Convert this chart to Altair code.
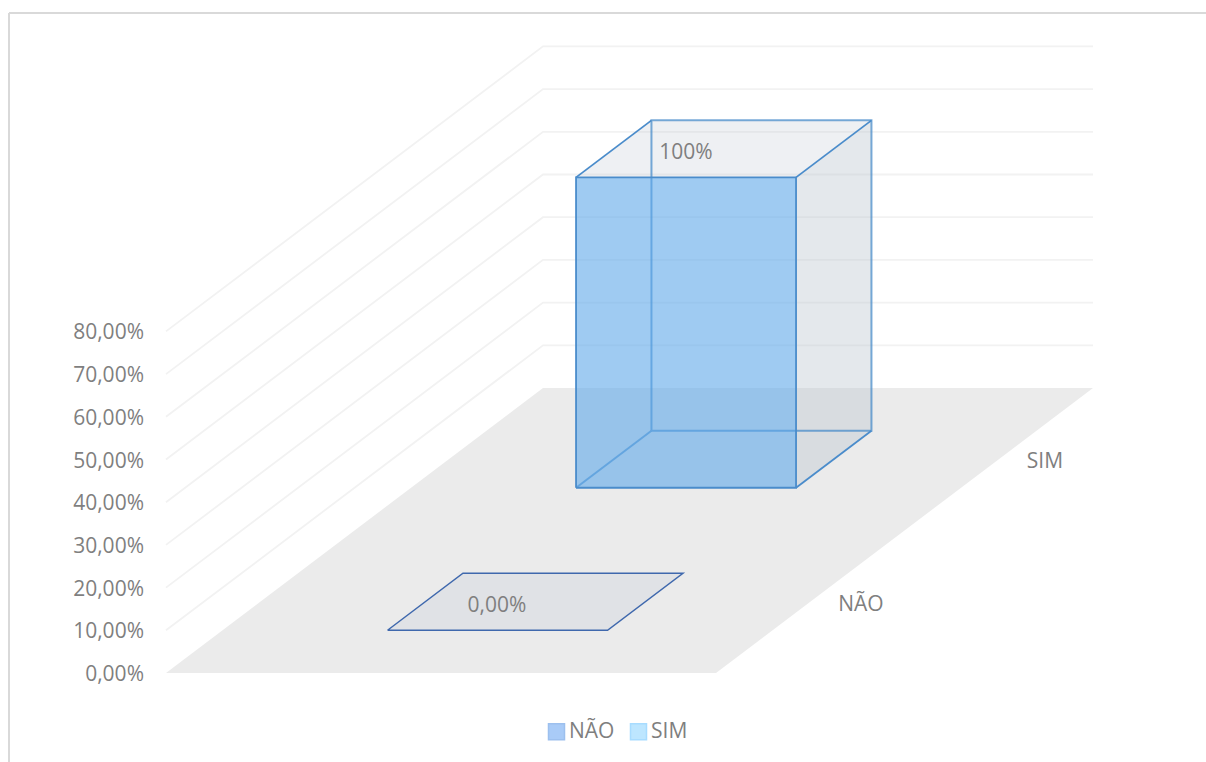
import altair as alt
import pandas as pd

# Series and their values (percent), as labelled on the bars
series = ["NÃO", "SIM"]
series_values = [0.0, 100.0]
value_labels = ["0,00%", "100%"]
tick_values = [0, 10, 20, 30, 40, 50, 60, 70, 80]
tick_labels = ["0,00%", "10,00%", "20,00%", "30,00%", "40,00%", "50,00%", "60,00%", "70,00%", "80,00%"]

# Oblique projection of the 3D box: u runs across, d runs into the page, h is height in pixels
ORIGIN = (166.0, 673.0)
ACROSS = 550.0
DEPTH = (377.0, 285.0)
AXIS_RISE = 4.27      # pixels per percent on the wall scale
BAR_RISE = 3.104      # pixels per percent on the bars
BAR_U = (0.30, 0.70)
SLOTS = [(0.15, 0.35), (0.65, 0.85)]

FONT = "Open Sans"
TEXT = "#7F7F7F"
W, H = 1206, 762

xs = alt.Scale(domain=[0, W], range=[0, W], nice=False, zero=False)
ys = alt.Scale(domain=[0, H], range=[0, H], nice=False, zero=False)


def project(u, d, h=0.0):
    return ORIGIN[0] + ACROSS * u + DEPTH[0] * d, ORIGIN[1] - DEPTH[1] * d - h


def flat_face(d0, d1, h, u0=BAR_U[0], u1=BAR_U[1]):
    """Parallelogram lying at height h: horizontal front and back edges."""
    rows = []
    for d in (d1, d0):
        xa, ya = project(u0, d, h)
        xb, _ = project(u1, d, h)
        rows.append({"px": xa, "px2": xb, "py": ya})
    return pd.DataFrame(rows)


def upright_face(points, h):
    """Upright face spanning the given (u, d) points from the floor to height h."""
    rows = []
    for u, d in points:
        xa, ya = project(u, d, h)
        _, yb = project(u, d, 0)
        rows.append({"px": xa, "py": ya, "py2": yb})
    return pd.DataFrame(rows)


def flat_area(df, **mark):
    return alt.Chart(df).mark_area(orient="horizontal", **mark).encode(
        y=alt.Y("py:Q", scale=ys, axis=None),
        x=alt.X("px:Q", scale=xs, axis=None),
        x2="px2:Q",
    )


def upright_area(df, **mark):
    return alt.Chart(df).mark_area(orient="vertical", **mark).encode(
        x=alt.X("px:Q", scale=xs, axis=None),
        y=alt.Y("py:Q", scale=ys, axis=None),
        y2="py2:Q",
    )


def segments(segs):
    rows = []
    for s, pts in enumerate(segs):
        for i, p in enumerate(pts):
            x, y = project(*p)
            rows.append({"seg": s, "i": i, "x": x, "y": y})
    return pd.DataFrame(rows)


def lines(df, **mark):
    return alt.Chart(df).mark_line(**mark).encode(
        x=alt.X("x:Q", scale=xs, axis=None),
        y=alt.Y("y:Q", scale=ys, axis=None),
        detail="seg:N",
        order="i:Q",
    )


def text_layer(df, **mark):
    return alt.Chart(df).mark_text(font=FONT, fontSize=21, color=TEXT, **mark).encode(
        x=alt.X("x:Q", scale=xs, axis=None),
        y=alt.Y("y:Q", scale=ys, axis=None),
        text="label:N",
    )


# Outer frame, open on the right and bottom
frame = alt.Chart(pd.DataFrame([
    {"x": 9, "x2": W, "y": 13, "y2": 13},
    {"x": 9, "x2": 9, "y": 13, "y2": H},
])).mark_rule(color="#D9D9D9", strokeWidth=2).encode(
    x=alt.X("x:Q", scale=xs, axis=None), x2="x2:Q",
    y=alt.Y("y:Q", scale=ys, axis=None), y2="y2:Q",
)

# Floor and the gridlines running up the side wall and along the back wall
floor = flat_area(flat_face(0, 1, 0, 0, 1), color="#EBEBEB")
grid = lines(
    segments([[(0, 0, v * AXIS_RISE), (0, 1, v * AXIS_RISE), (1, 1, v * AXIS_RISE)]
              for v in tick_values[1:]]),
    color="#F2F2F2", strokeWidth=1.8,
)

# Flat series: a zero-height plate
d0, d1 = SLOTS[0]
h0 = series_values[0] * BAR_RISE
plate = flat_area(flat_face(d0, d1, h0), color="#E0E2E6")
u0, u1 = BAR_U
plate_edges = lines(
    segments([[(u0, d0, h0), (u1, d0, h0), (u1, d1, h0), (u0, d1, h0), (u0, d0, h0)]]),
    color="#3F68AD", strokeWidth=1.5,
)

# Tall series: translucent box
d0, d1 = SLOTS[1]
h1 = series_values[1] * BAR_RISE
GRAY_FACE = "#BBC5CF"
top_face = flat_area(flat_face(d0, d1, h1), color=GRAY_FACE, opacity=0.25)
right_face = upright_area(upright_face([(u1, d0), (u1, d1)], h1), color=GRAY_FACE, opacity=0.4)
front_face = upright_area(upright_face([(u0, d0), (u1, d0)], h1), color="#5AA5E8", opacity=0.58)

back_edges = lines(
    segments([
        [(u0, d1, 0), (u0, d1, h1), (u1, d1, h1), (u1, d1, 0), (u0, d1, 0)],
        [(u0, d0, 0), (u0, d1, 0)],
    ]),
    color="#3F86C8", strokeWidth=2, opacity=0.7,
)
front_edges = lines(
    segments([
        [(u0, d0, 0), (u0, d0, h1), (u1, d0, h1), (u1, d0, 0), (u0, d0, 0)],
        [(u0, d0, h1), (u0, d1, h1)],
        [(u1, d0, h1), (u1, d1, h1)],
        [(u1, d0, 0), (u1, d1, 0)],
    ]),
    color="#4A8CCB", strokeWidth=1.8,
)

# Text: axis ticks, category names along the right edge, value labels
tick_text = text_layer(pd.DataFrame([
    {"x": 144, "y": project(0, 0, v * AXIS_RISE)[1] + 2, "label": t}
    for v, t in zip(tick_values, tick_labels)
]), align="right", baseline="middle")

name_text = text_layer(pd.DataFrame([
    {"x": project(1.0, (a + b) / 2)[0] + 28, "y": project(1.0, (a + b) / 2)[1] + 3, "label": s}
    for s, (a, b) in zip(series, SLOTS)
]), align="left", baseline="middle")

value_text = text_layer(pd.DataFrame([
    {"x": 497, "y": 606, "label": value_labels[0]},
    {"x": 686, "y": 153, "label": value_labels[1]},
]), align="center", baseline="middle")

# Legend carrier: invisible points so the colour scales produce a legend
legend_spec = alt.Legend(
    title=None, orient="none", legendX=546, legendY=721, direction="horizontal",
    symbolType="square", symbolSize=256, symbolOpacity=1, symbolStrokeWidth=1.5,
    labelFont=FONT, labelFontSize=21, labelColor=TEXT, labelOffset=2,
    columnPadding=12, symbolOffset=0, padding=0,
)
legend_layer = alt.Chart(pd.DataFrame({"series": series, "x": [600, 640], "y": [731, 731]})).mark_point(
    shape="square", filled=True, opacity=0,
).encode(
    x=alt.X("x:Q", scale=xs, axis=None),
    y=alt.Y("y:Q", scale=ys, axis=None),
    color=alt.Color("series:N", scale=alt.Scale(domain=series, range=["#A9CBF7", "#BDE6FF"]), legend=legend_spec),
    stroke=alt.Stroke("series:N", scale=alt.Scale(domain=series, range=["#9DC0EE", "#A8DCFF"]), legend=legend_spec),
)

chart = alt.layer(
    frame, floor, grid, plate, plate_edges,
    top_face, right_face, back_edges, front_face, front_edges,
    tick_text, name_text, value_text, legend_layer,
).properties(
    width=W, height=H, background="#FFFFFF", padding=0,
    autosize=alt.AutoSizeParams(type="none"),
).configure_view(stroke=None)

chart.save("out.html", embed_options={"renderer": "svg", "actions": False})
